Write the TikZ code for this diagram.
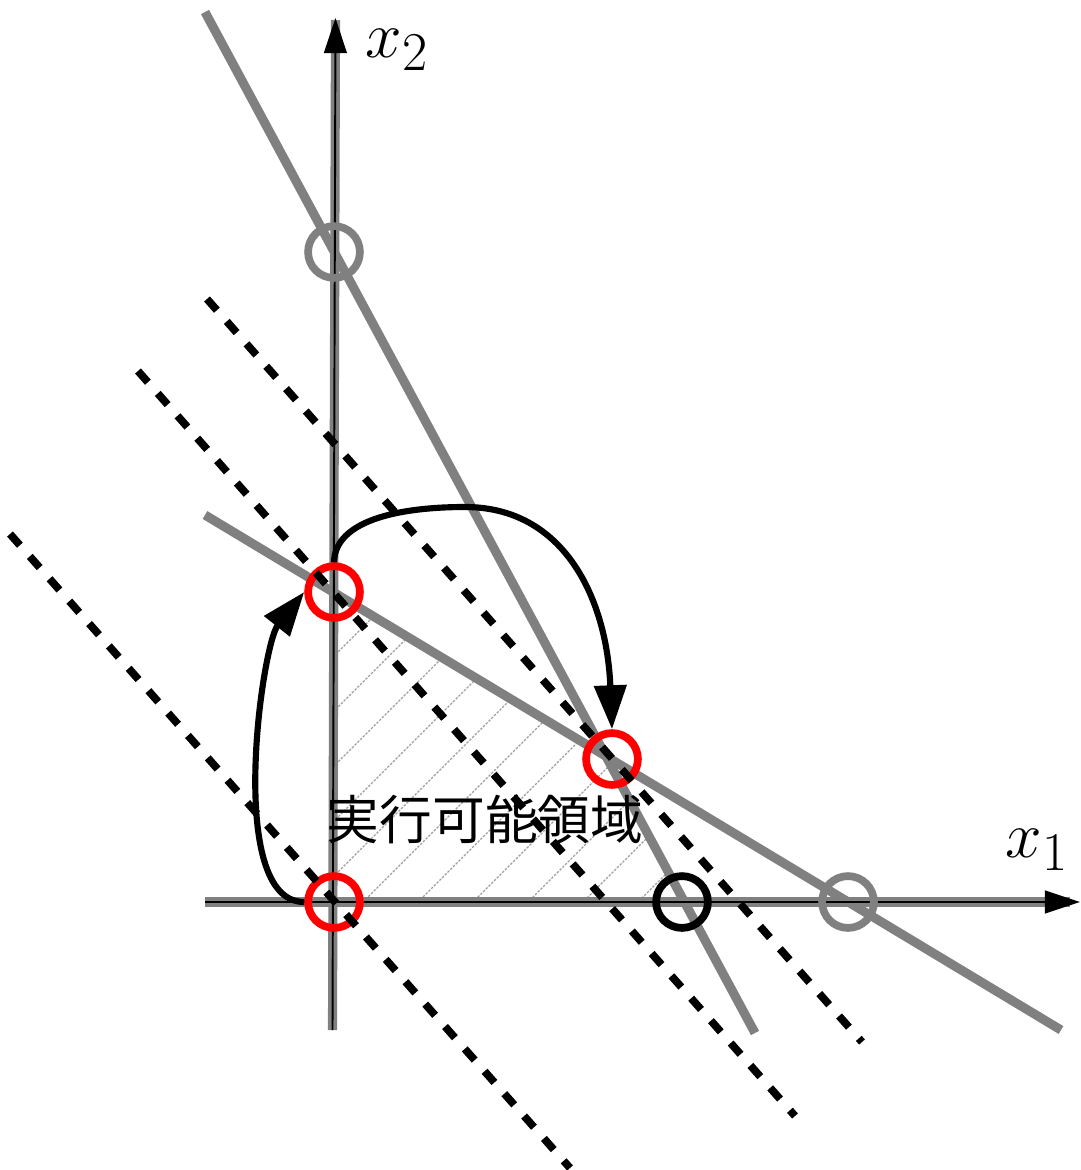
\documentclass[tikz,border=0pt]{standalone}
\usepackage{fontspec}
\newfontfamily\cjk{Noto Sans CJK JP}
\usetikzlibrary{arrows.meta}
\begin{document}
\begin{tikzpicture}[x=0.02cm,y=-0.02cm,
  gline/.style={draw=gray,line width=5.2pt},
  dline/.style={draw=black,line width=4.4pt,dash pattern=on 8.5pt off 8.5pt},
  ptc/.style={circle,draw,line width=4.4pt,minimum size=29.5pt,inner sep=0pt},
  axisg/.style={draw=gray,line width=5.2pt},
  axisk/.style={draw=black,line width=1.1pt,-{Triangle[length=20pt,width=13pt]}},
  carrow/.style={draw=black,line width=3.5pt,-{Triangle[length=25pt,width=18pt]}},
  hatch/.style={draw=gray!75,line width=0.7pt,dash pattern=on 1.4pt off 0.8pt},
  lbl/.style={inner sep=0pt,scale=1.5,font=\fontsize{24.88}{30}\selectfont}
]
\useasboundingbox (0,0) rectangle (1080,1170);
% feasible region hatching
\begin{scope}
\clip (334,902) -- (334,592) -- (606,756) -- (684,902) -- cycle;
\foreach \c in {935,990,...,1590} \draw[hatch] (300,\c-300) -- (720,\c-720);
\end{scope}
% constraint lines
\draw[gline] (205,12) -- (755,1033);
\draw[gline] (205,515) -- (1061,1030);
% axes
\draw[axisg] (205,902) -- (1070,902);
\draw[axisg] (332.5,1030) -- (335.5,20);
\coordinate (xs) at (205,902);
\coordinate (xe) at (1080,902);
\coordinate (ys) at (332.5,1030);
\coordinate (ye) at (335.5,18);
\draw[axisk] (xs) -- (xe);
\draw[axisk] (ys) -- (ye);
% points
\node[ptc,draw=gray] (P1) at (334,252) {};
\node[ptc,draw=gray] (P2) at (848,902) {};
\node[ptc,draw=black] (P3) at (682,902) {};
\node[ptc,draw=red] (O) at (334,902) {};
\node[ptc,draw=red] (A) at (334,592) {};
\node[ptc,draw=red] (B) at (612,759) {};
% objective lines
\draw[dline] (10,534) -- (570,1168);
\draw[dline] (138,371) -- (795,1116);
\draw[dline] (207,299) -- (862,1042);
% labels
\node[lbl] (x2) at (397,50) {$x_2$};
\node[lbl] (x1) at (1037,850) {$x_1$};
\node[font=\cjk\fontsize{30}{36}\selectfont,inner sep=0pt] (fr) at (485,820) {実行可能領域};
% moves
\draw[carrow] (O.west) .. controls (225,902) and (262,645) .. (A.west);
\draw[carrow] (A.north) .. controls (335,520) and (400,507) .. (465,507) .. controls (565,507) and (607,600) .. (B.north);
\end{tikzpicture}
\end{document}
